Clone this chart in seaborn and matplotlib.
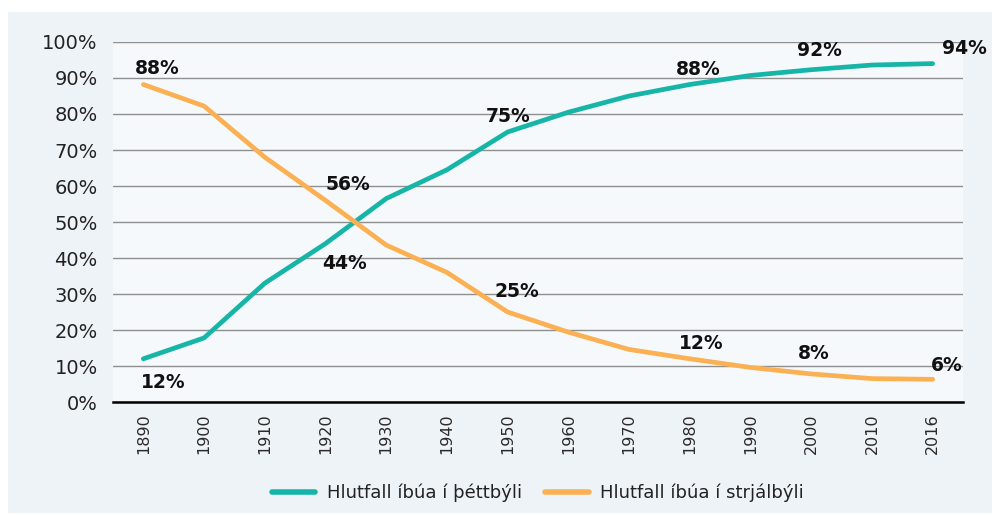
import numpy as np
import pandas as pd
import matplotlib
matplotlib.use("Agg")
import matplotlib.pyplot as plt
import seaborn as sns
from matplotlib.patches import Rectangle

# Data
years = ["1890", "1900", "1910", "1920", "1930", "1940", "1950",
         "1960", "1970", "1980", "1990", "2000", "2010", "2016"]
urban = [12, 17.8, 33, 44, 56.5, 64.5, 75, 80.5, 85, 88.2, 90.7, 92.3, 93.6, 94]
rural = [88.2, 82.2, 68, 56, 43.6, 36, 25, 19.4, 14.6, 12, 9.6, 7.8, 6.5, 6.3]
urban_label = "Hlutfall íbúa í þéttbýli"
rural_label = "Hlutfall íbúa í strjálbýli"

# which points get a value label, with offsets in points
urban_notes = {0: (14, -17), 3: (14, -14), 6: (0, 11), 9: (6, 11), 11: (6, 13.5), 13: (23, 11)}
rural_notes = {0: (10, 11.5), 3: (16, 11.5), 6: (6.5, 15), 9: (8.5, 11), 11: (1.5, 14.5), 13: (10, 10)}

teal = "#17b5a7"
orange = "#fbb153"

df = pd.DataFrame({
    "year": years * 2,
    "share": urban + rural,
    "series": [urban_label] * len(years) + [rural_label] * len(years),
})

sns.set_style("white")
plt.rcParams["font.family"] = ["DejaVu Sans"]

fig = plt.figure(figsize=(9.98, 5.15), dpi=100)
fig.patch.set_facecolor("white")
# light panel behind the whole chart
fig.patches.append(Rectangle((8 / 998, 2 / 515), 984 / 998, 501 / 515,
                             transform=fig.transFigure, facecolor="#eef3f8",
                             edgecolor="none", zorder=-5))

ax = fig.add_axes([113 / 998, 113 / 515, 850 / 998, 360 / 515])
ax.set_zorder(1)
ax.set_facecolor("#f6f9fc")

sns.lineplot(data=df, x="year", y="share", hue="series",
             palette={urban_label: teal, rural_label: orange},
             linewidth=3.4, sort=False, ax=ax)

ax.set_ylim(0, 100)
ax.set_xlim(-0.5, len(years) - 0.5)
ax.set_yticks(np.arange(0, 101, 10))
ax.set_yticklabels([f"{v}%" for v in range(0, 101, 10)])
ax.yaxis.grid(True, color="#8f8f8f", linewidth=1)
ax.set_axisbelow(True)
ax.set_xlabel("")
ax.set_ylabel("")

for s in ["top", "right", "left"]:
    ax.spines[s].set_visible(False)
ax.spines["bottom"].set_color("black")
ax.spines["bottom"].set_linewidth(1.8)

ax.set_xticks(range(len(years)))
ax.set_xticklabels(years, rotation=90)
ax.set_xticks(np.arange(-0.5, len(years), 1.0), minor=True)
ax.tick_params(axis="x", which="major", length=0, pad=8, labelsize=11.5, labelcolor="#2a2a2a")
ax.tick_params(axis="x", which="minor", direction="in", length=5, width=1, color="#333333")
ax.tick_params(axis="y", length=0, pad=11, labelsize=14, labelcolor="#222222")

for i, off in urban_notes.items():
    ax.annotate(f"{urban[i]:.0f}%", (i, urban[i]), xytext=off, textcoords="offset points",
                ha="center", va="center", fontsize=13.5, fontweight="bold",
                color="#111111", annotation_clip=False)
for i, off in rural_notes.items():
    ax.annotate(f"{rural[i]:.0f}%", (i, rural[i]), xytext=off, textcoords="offset points",
                ha="center", va="center", fontsize=13.5, fontweight="bold",
                color="#111111", annotation_clip=False)

leg = ax.legend(loc="center", bbox_to_anchor=(0.5, -0.253), ncol=2, frameon=False,
                fontsize=13, handlelength=2.4, handletextpad=0.65, columnspacing=1.3)
for line in leg.get_lines():
    line.set_linewidth(4)
for t in leg.get_texts():
    t.set_color("#222222")

fig.savefig("out.png", dpi=100, facecolor=fig.get_facecolor())
